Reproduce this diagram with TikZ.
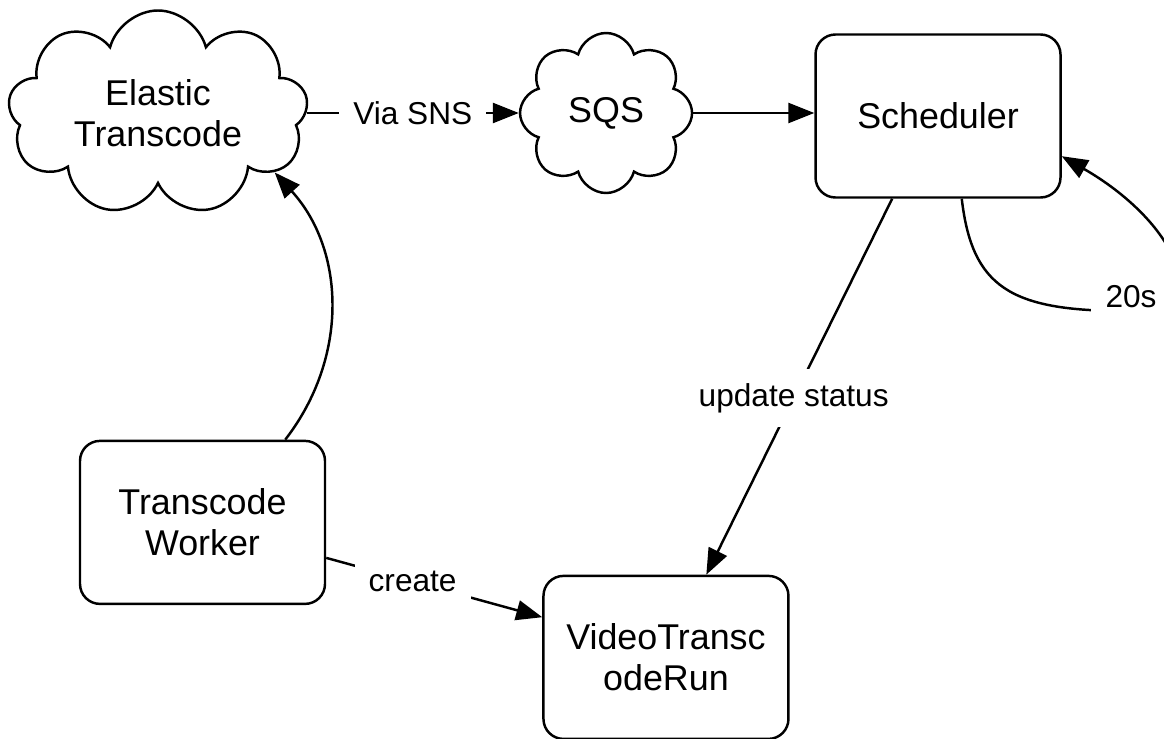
\documentclass[tikz,border=0pt]{standalone}
\usepackage{fontspec}
\setmainfont{Liberation Sans}
\usetikzlibrary{positioning,shapes.symbols,arrows.meta}

\begin{document}
\begin{tikzpicture}[line width=0.7pt, >={Triangle[length=0.26cm,width=0.2cm]},
    box/.style={rectangle, draw, rounded corners=0.2cm, minimum width=2.45cm, minimum height=1.63cm, align=center, font=\fontsize{10.2}{11.7}\selectfont},
    puff/.style={cloud, draw, cloud ignores aspect, inner sep=0pt, align=center, font=\fontsize{10.2}{11.7}\selectfont},
    lbl/.style={fill=white, inner sep=4pt, font=\fontsize{9}{10.8}\selectfont}]
    \useasboundingbox (0,0) rectangle (11.64,7.38);
    \node[puff, cloud puffs=9, minimum width=3cm, minimum height=2.05cm] (elastic) at (1.58,6.25) {Elastic\\Transcode};
    \node[puff, cloud puffs=8, minimum width=1.72cm, minimum height=1.6cm, right=2.12cm of elastic] (sqs) {SQS};
    \node[box, right=1.21cm of sqs, yshift=-0.03cm] (scheduler) {Scheduler};
    \node[box, below=2.54cm of elastic, xshift=0.445cm] (worker) {Transcode\\Worker};
    \node[box, right=2.16cm of worker, yshift=-1.35cm] (vtr) {VideoTransc\\odeRun};

    \draw[->] (elastic) -- node[lbl] {Via SNS} (sqs);
    \draw[->] (sqs) -- (sqs -| scheduler.west);
    \draw[->] (worker.45) to[bend right=40] (elastic.-27);
    \draw[->] (worker.-16) -- node[lbl, pos=0.4] {create} (vtr.162);
    \draw[->] (scheduler.-119) -- node[lbl, pos=0.53] {update status} (vtr.64);
    \draw[->] (scheduler.-74) .. controls (9.72,4.51) and (10.1,4.27) .. (11.26,4.27) node[lbl, xshift=0.05cm, yshift=0.14cm] {20s} .. controls (12.2,4.27) and (11.73,5.18) .. (scheduler.-18);
\end{tikzpicture}
\end{document}
